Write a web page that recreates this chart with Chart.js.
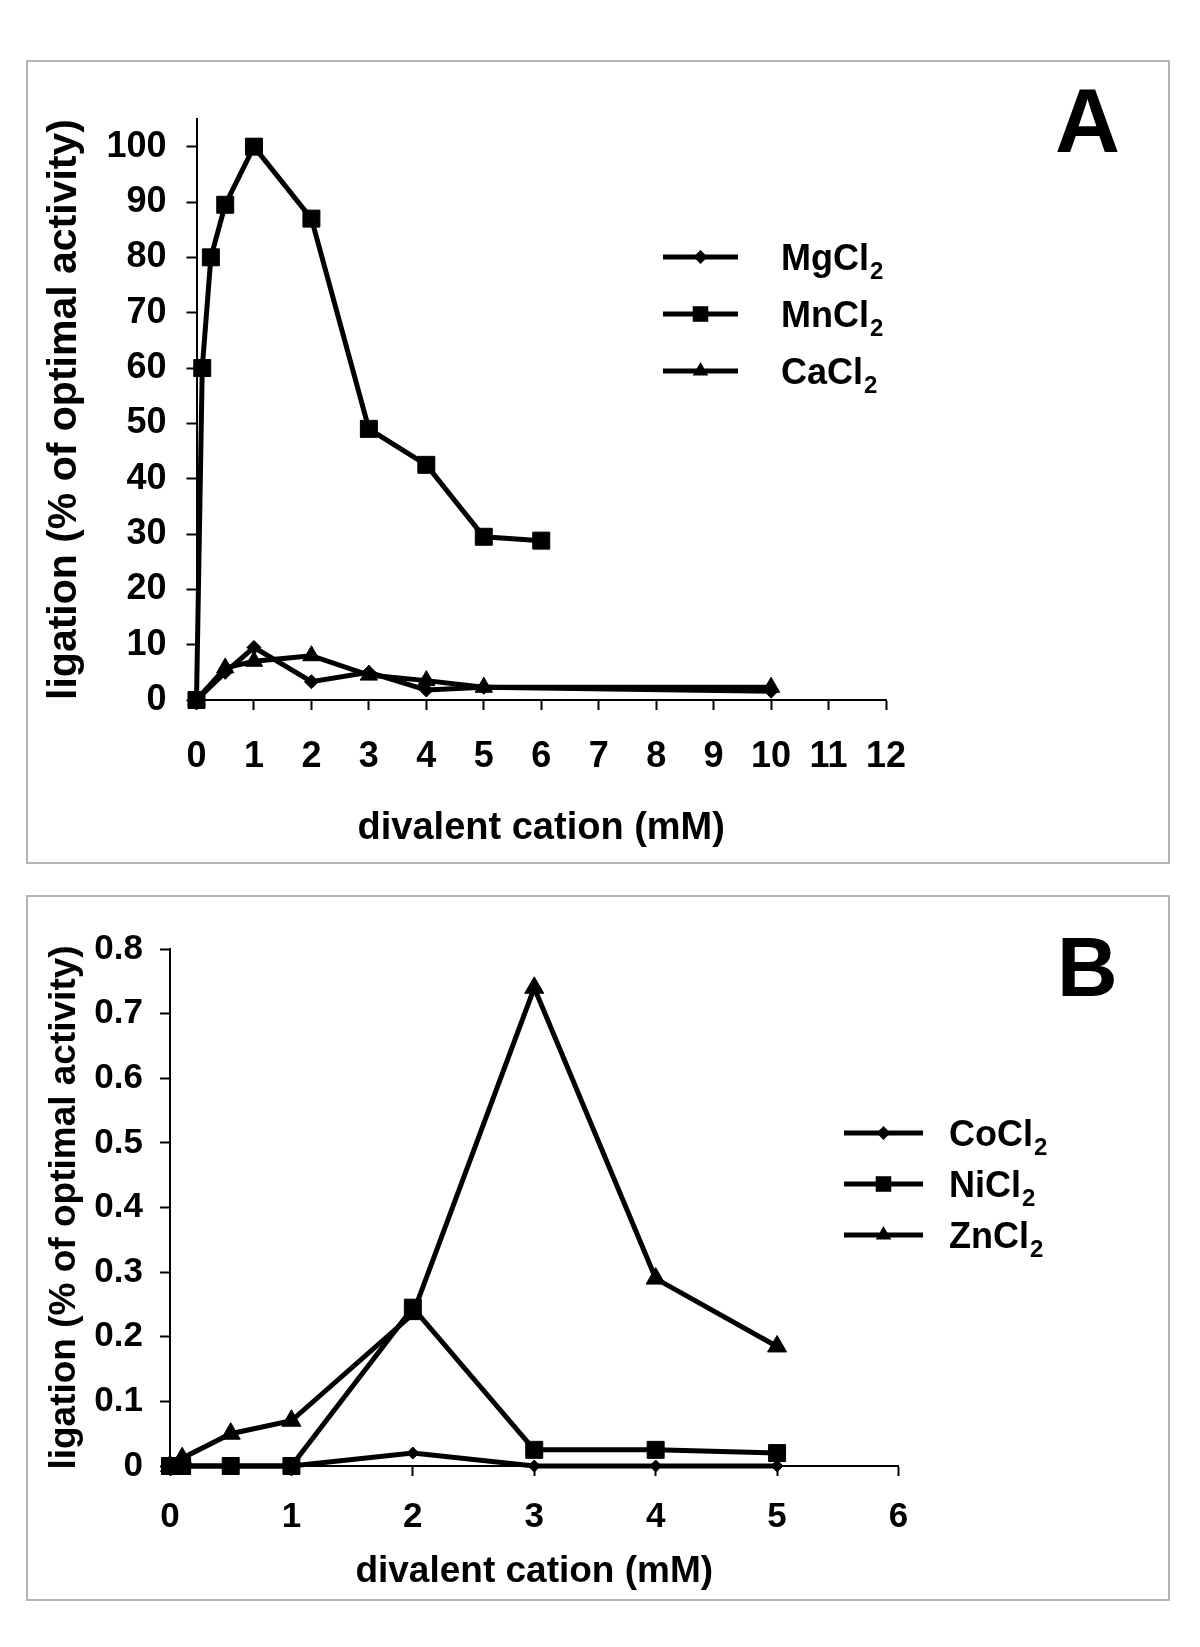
<!DOCTYPE html>
<html>
<head>
<meta charset="utf-8">
<script src="https://cdn.jsdelivr.net/npm/chart.js@4.4.0/dist/chart.umd.min.js"></script>
<style>
  body { margin: 0; background: #fff; width: 1200px; height: 1647px; position: relative; }
  canvas { position: absolute; }
  #chartA { left: 26px; top: 60px; }
  #chartB { left: 26px; top: 895px; }
</style>
</head>
<body>
<canvas id="chartA" width="1144" height="804"></canvas>
<canvas id="chartB" width="1144" height="706"></canvas>
<script>
// Panel A data (mM vs % of optimal activity)
const xMn = [0, 0.1, 0.25, 0.5, 1, 2, 3, 4, 5, 6];
const mnCl2 = [0, 60, 80, 89.5, 100, 87, 49, 42.5, 29.5, 28.8];
const xMgCa = [0, 0.5, 1, 2, 3, 4, 5, 10];
const mgCl2 = [0, 5, 9.5, 3.3, 5, 1.8, 2.3, 1.6];
const caCl2 = [0, 5.8, 7, 8, 4.5, 3.5, 2.3, 2.3];
const xTicksA = [0, 1, 2, 3, 4, 5, 6, 7, 8, 9, 10, 11, 12];
const yTicksA = [0, 10, 20, 30, 40, 50, 60, 70, 80, 90, 100];

// Panel B data
const xB = [0, 0.1, 0.5, 1, 2, 3, 4, 5];
const coCl2 = [0, 0, 0, 0, 0.02, 0, 0, 0];
const niCl2 = [0, 0, 0, 0, 0.245, 0.025, 0.025, 0.02];
const znCl2 = [0, 0.012, 0.05, 0.07, 0.235, 0.74, 0.29, 0.185];
const xTicksB = [0, 1, 2, 3, 4, 5, 6];
const yTicksB = [0, 0.1, 0.2, 0.3, 0.4, 0.5, 0.6, 0.7, 0.8];

const FONT = "'Liberation Sans', Arial, sans-serif";

function pts(xs, ys) {
    return xs.map((x, i) => ({ x: x, y: ys[i] }));
}

function series(label, xs, ys, style, radius) {
    return {
        label: label,
        data: pts(xs, ys),
        borderColor: '#000',
        backgroundColor: '#000',
        borderWidth: 5,
        pointStyle: style,
        pointRadius: radius,
        pointBackgroundColor: '#000',
        pointBorderColor: '#000',
        pointBorderWidth: 1,
        tension: 0,
        clip: false
    };
}

// draw a marker the same way for the legend
function marker(ctx, style, x, y, r) {
    ctx.beginPath();
    if (style === 'rect') {
        const s = Math.SQRT1_2 * r;
        ctx.rect(x - s, y - s, 2 * s, 2 * s);
    } else if (style === 'triangle') {
        ctx.moveTo(x, y - r);
        ctx.lineTo(x + Math.sin(Math.PI * 2 / 3) * r, y + r / 2);
        ctx.lineTo(x - Math.sin(Math.PI * 2 / 3) * r, y + r / 2);
        ctx.closePath();
    } else {
        ctx.moveTo(x, y - r);
        ctx.lineTo(x + r, y);
        ctx.lineTo(x, y + r);
        ctx.lineTo(x - r, y);
        ctx.closePath();
    }
    ctx.fill();
}

function decor(opts) {
    return {
        id: 'decor',
        beforeDraw(chart) {
            const ctx = chart.ctx;
            ctx.save();
            ctx.fillStyle = '#fff';
            ctx.fillRect(0, 0, chart.width, chart.height);
            ctx.strokeStyle = '#b4b4b4';
            ctx.lineWidth = 2;
            ctx.strokeRect(1, 1, chart.width - 2, chart.height - 2);
            ctx.restore();
        },
        afterDraw(chart) {
            const ctx = chart.ctx;
            ctx.save();
            ctx.fillStyle = '#000';
            ctx.strokeStyle = '#000';
            // panel letter
            ctx.font = 'bold ' + opts.letterSize + 'px ' + FONT;
            ctx.textBaseline = 'alphabetic';
            ctx.textAlign = 'left';
            ctx.fillText(opts.letter, opts.letterX, opts.letterY);
            // legend
            chart.data.datasets.forEach((ds, i) => {
                const y = opts.legY + i * opts.legGap;
                ctx.lineWidth = 5;
                ctx.beginPath();
                ctx.moveTo(opts.legX1, y);
                ctx.lineTo(opts.legX2, y);
                ctx.stroke();
                marker(ctx, ds.pointStyle, (opts.legX1 + opts.legX2) / 2, y, ds.pointStyle === 'rect' ? 11 : (ds.pointStyle === 'triangle' ? 9 : 7));
                const name = ds.label.slice(0, -1);
                ctx.font = 'bold ' + opts.legFont + 'px ' + FONT;
                ctx.textBaseline = 'middle';
                ctx.fillText(name, opts.legTextX, y + 3);
                const w = ctx.measureText(name).width;
                ctx.font = 'bold ' + Math.round(opts.legFont * 0.68) + 'px ' + FONT;
                ctx.fillText('2', opts.legTextX + w + 1, y + 15);
            });
            ctx.restore();
        }
    };
}

function axes(cfg) {
    return {
        x: {
            type: 'linear',
            min: cfg.xMin, max: cfg.xMax,
            afterBuildTicks: s => { s.ticks = cfg.xTicks.map(v => ({ value: v })); },
            afterFit: s => { s.height = cfg.xHeight; },
            grid: { drawOnChartArea: false, drawTicks: true, tickLength: 10, tickWidth: 2, tickColor: '#000' },
            border: { display: true, color: '#000', width: 2 },
            ticks: {
                color: '#000', padding: cfg.xTickPad, maxRotation: 0,
                font: { family: FONT, size: cfg.tickSize, weight: 'bold' }
            },
            title: {
                display: true, text: 'divalent cation (mM)', color: '#000',
                font: { family: FONT, size: cfg.xTitleSize, weight: 'bold' },
                padding: { top: 0, bottom: cfg.xTitlePad }
            }
        },
        y: {
            type: 'linear',
            min: cfg.yMin, max: cfg.yMax,
            afterBuildTicks: s => { s.ticks = cfg.yTicks.map(v => ({ value: v })); },
            afterFit: s => { s.width = cfg.yWidth; },
            grid: { drawOnChartArea: false, drawTicks: true, tickLength: 10, tickWidth: 2, tickColor: '#000' },
            border: { display: true, color: '#000', width: 2 },
            ticks: {
                color: '#000', padding: cfg.yTickPad,
                font: { family: FONT, size: cfg.tickSize, weight: 'bold' }
            },
            title: {
                display: true, text: 'ligation (% of optimal activity)', color: '#000',
                font: { family: FONT, size: cfg.yTitleSize, weight: 'bold' },
                padding: { top: cfg.yTitlePad, bottom: 0 }
            }
        }
    };
}

const commonOpts = {
    responsive: false,
    devicePixelRatio: 1,
    animation: false,
    plugins: { legend: { display: false }, tooltip: { enabled: false } }
};

new Chart(document.getElementById('chartA'), {
    type: 'line',
    data: {
        datasets: [
            series('MgCl2', xMgCa, mgCl2, 'rectRot', 7),
            series('MnCl2', xMn, mnCl2, 'rect', 12),
            series('CaCl2', xMgCa, caCl2, 'triangle', 10)
        ]
    },
    options: Object.assign({}, commonOpts, {
        layout: { padding: { top: 59, right: 284, bottom: 0, left: 0 } },
        scales: axes({
            xMin: 0, xMax: 12, xTicks: xTicksA, xHeight: 164, xTickPad: 25,
            yMin: 0, yMax: 105, yTicks: yTicksA, yWidth: 170.5, yTickPad: 20,
            tickSize: 36, xTitleSize: 38, xTitlePad: 13, yTitleSize: 41, yTitlePad: 14
        })
    }),
    plugins: [decor({
        letter: 'A', letterSize: 90, letterX: 1029, letterY: 92,
        legX1: 637, legX2: 712, legY: 197, legGap: 57, legTextX: 755, legFont: 36
    })]
});

new Chart(document.getElementById('chartB'), {
    type: 'line',
    data: {
        datasets: [
            series('CoCl2', xB, coCl2, 'rectRot', 6),
            series('NiCl2', xB, niCl2, 'rect', 12),
            series('ZnCl2', xB, znCl2, 'triangle', 11)
        ]
    },
    options: Object.assign({}, commonOpts, {
        layout: { padding: { top: 54, right: 271.5, bottom: 0, left: 0 } },
        scales: axes({
            xMin: 0, xMax: 6, xTicks: xTicksB, xHeight: 135, xTickPad: 20,
            yMin: 0, yMax: 0.8, yTicks: yTicksB, yWidth: 144, yTickPad: 17,
            tickSize: 35, xTitleSize: 37, xTitlePad: 7, yTitleSize: 37, yTitlePad: 17
        })
    }),
    plugins: [decor({
        letter: 'B', letterSize: 84, letterX: 1031, letterY: 101,
        legX1: 818, legX2: 897, legY: 238, legGap: 51, legTextX: 923, legFont: 36
    })]
});
</script>
</body>
</html>
